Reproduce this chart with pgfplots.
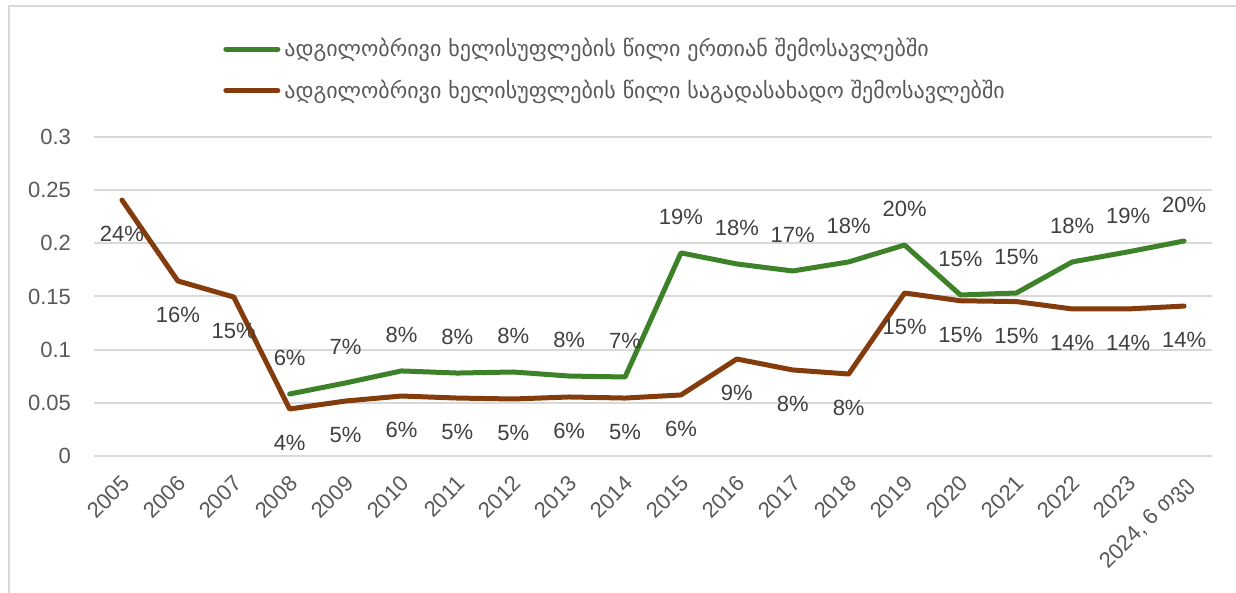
\documentclass[border=0pt]{standalone}
\usepackage{fontspec}
\setmainfont{Liberation Sans}
\newfontfamily\geo{DejaVu Sans}
\usepackage{pgfplots}
\pgfplotsset{compat=1.18}
\definecolor{grn}{HTML}{3D8128}
\definecolor{brn}{HTML}{843C0C}
\definecolor{gridc}{HTML}{D9D9D9}
\definecolor{txt}{HTML}{595959}
\definecolor{lbl}{HTML}{404040}
\begin{document}
\begin{tikzpicture}
\useasboundingbox (0,0) rectangle (618pt,296.5pt);
\draw[gridc, line width=1pt] (4.5pt,0) -- (4.5pt,293.5pt) -- (618pt,293.5pt);
\begin{axis}[
  at={(47pt,68.5pt)}, anchor=south west,
  scale only axis, width=559pt, height=159.5pt,
  xmin=-0.5, xmax=19.5, ymin=0, ymax=0.3,
  axis line style={draw=none},
  major tick style={draw=none},
  ymajorgrids,
  grid style={gridc, line width=1pt},
  ytick={0,0.05,0.1,0.15,0.2,0.25,0.3},
  yticklabels={0,0.05,0.1,0.15,0.2,0.25,0.3},
  xtick={0,1,...,19},
  xticklabels={2005,2006,2007,2008,2009,2010,2011,2012,2013,2014,2015,2016,2017,2018,2019,2020,2021,2022,2023,{2024, 6 {\geo თვე}}},
  ticklabel style={font=\fontsize{11}{13}\selectfont, text=txt},
  yticklabel style={xshift=-8pt},
  xticklabel style={rotate=45, anchor=north east, inner sep=1pt, yshift=-4.7pt, xshift=-5.9pt},
  legend style={at={(0.11,1.335)}, anchor=north west, draw=none, fill=none,
    font=\geo\fontsize{11}{13}\selectfont, text=txt, row sep=6pt},
  legend cell align=left,
  legend image code/.code={\draw[#1, line width=2.5pt, line cap=round] (0pt,0pt) -- (26pt,0pt);},
  every node near coord/.append style={font=\fontsize{11}{13}\selectfont, text=lbl, anchor=center},
]
\addlegendimage{grn, line width=2.5pt}
\addlegendentry{ადგილობრივი ხელისუფლების წილი ერთიან შემოსავლებში}
\addlegendimage{brn, line width=2.5pt}
\addlegendentry{ადგილობრივი ხელისუფლების წილი საგადასახადო შემოსავლებში}

\addplot[forget plot, grn, line width=2.5pt, line join=round, line cap=round,
  nodes near coords, point meta=explicit symbolic,
  every node near coord/.append style={yshift=18pt}] coordinates {
  (3,0.0583) [6\%]
  (4,0.0687) [7\%]
  (5,0.0800) [8\%]
  (6,0.0780) [8\%]
  (7,0.0790) [8\%]
  (8,0.0752) [8\%]
  (9,0.0743) [7\%]
  (10,0.1910) [19\%]
  (11,0.1806) [18\%]
  (12,0.1740) [17\%]
  (13,0.1825) [18\%]
  (14,0.1984) [20\%]
  (15,0.1514) [15\%]
  (16,0.1533) [15\%]
  (17,0.1825) [18\%]
  (18,0.1920) [19\%]
  (19,0.2022) [20\%]
};
\addplot[forget plot, brn, line width=2.5pt, line join=round, line cap=round,
  nodes near coords, point meta=explicit symbolic,
  every node near coord/.append style={yshift=-17pt}] coordinates {
  (0,0.2407) [24\%]
  (1,0.1646) [16\%]
  (2,0.1495) [15\%]
  (3,0.0442) [4\%]
  (4,0.0517) [5\%]
  (5,0.0564) [6\%]
  (6,0.0545) [5\%]
  (7,0.0536) [5\%]
  (8,0.0555) [6\%]
  (9,0.0545) [5\%]
  (10,0.0574) [6\%]
  (11,0.0912) [9\%]
  (12,0.0809) [8\%]
  (13,0.0771) [8\%]
  (14,0.1533) [15\%]
  (15,0.1460) [15\%]
  (16,0.1452) [15\%]
  (17,0.1383) [14\%]
  (18,0.1383) [14\%]
  (19,0.1410) [14\%]
};
\end{axis}
\end{tikzpicture}
\end{document}
